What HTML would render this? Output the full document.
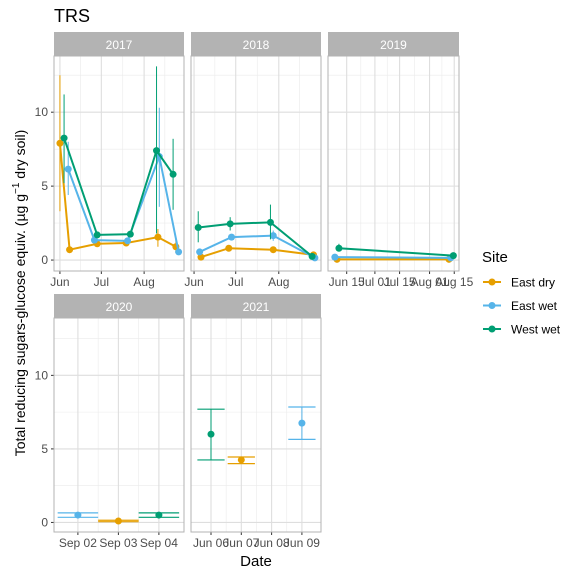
<!DOCTYPE html>
<html><head><meta charset="utf-8"><style>
body{margin:0;background:#fff}
svg text{font-family:"Liberation Sans",Arial,sans-serif}
</style></head><body>
<svg id="c" width="576" height="576" xmlns="http://www.w3.org/2000/svg">
<text x="54" y="22" font-size="18" fill="#000">TRS</text>
<text transform="translate(25,293) rotate(-90)" text-anchor="middle" font-size="14" fill="#000">Total reducing sugars-glucose equiv. (µg g<tspan dy="-6" font-size="10">−1</tspan><tspan dy="6"> dry soil)</tspan></text>
<text x="256" y="566" text-anchor="middle" font-size="15" fill="#000">Date</text>
<g>
<text x="482" y="262" font-size="15" fill="#000">Site</text>
</g>
</svg>
<script>
const colors={"East dry":"#E69F00","East wet":"#56B4E9","West wet":"#009E73"};
const siteNames=["East dry","East wet","West wet"];
// 2017 (days from Jun 1)
const d17_days={"East dry":[0,7,27,48,71,84],"East wet":[6,25,49,72,86],"West wet":[3,27,51,70,82]};
const d17_vals={"East dry":[7.9,0.7,1.1,1.15,1.55,0.9],"East wet":[6.15,1.35,1.3,7.0,0.55],"West wet":[8.25,1.7,1.75,7.4,5.8]};
const d17_lo={"East dry":[3.3,0.6,1.0,1.05,0.9,0.5],"East wet":[4.4,1.25,1.2,3.6,0.45],"West wet":[5.2,1.6,1.6,1.8,3.4]};
const d17_hi={"East dry":[12.5,0.8,1.2,1.25,2.1,1.4],"East wet":[8.0,1.45,1.4,10.3,0.65],"West wet":[11.2,1.8,1.9,13.1,8.2]};
// 2018
const d18_days={"East dry":[5,25,57,86],"East wet":[4,27,57,87],"West wet":[3,26,55,85]};
const d18_vals={"East dry":[0.2,0.8,0.7,0.35],"East wet":[0.55,1.55,1.65,0.15],"West wet":[2.2,2.45,2.55,0.25]};
const d18_lo={"East dry":[0.1,0.7,0.6,0.25],"East wet":[0.45,1.4,1.3,0.1],"West wet":[1.2,2.0,1.4,0.15]};
const d18_hi={"East dry":[0.3,0.9,0.8,0.45],"East wet":[0.65,1.7,2.0,0.2],"West wet":[3.3,2.9,3.75,0.35]};
// 2019 (days from Jun 15)
const d19_days={"East dry":[-5.5,58],"East wet":[-6.7,59],"West wet":[-4.4,60.5]};
const d19_vals={"East dry":[0.05,0.05],"East wet":[0.2,0.15],"West wet":[0.8,0.3]};
const d19_lo={"East dry":[0.0,0.0],"East wet":[0.15,0.1],"West wet":[0.6,0.25]};
const d19_hi={"East dry":[0.1,0.1],"East wet":[0.25,0.2],"West wet":[1.1,0.35]};
// 2020 (days from Sep 02)
const d20_days={"East dry":[1],"East wet":[0],"West wet":[2]};
const d20_vals={"East dry":[0.1],"East wet":[0.5],"West wet":[0.5]};
const d20_lo={"East dry":[0.05],"East wet":[0.35],"West wet":[0.35]};
const d20_hi={"East dry":[0.15],"East wet":[0.65],"West wet":[0.65]};
// 2021 (days from Jun 06)
const d21_days={"East dry":[1],"East wet":[3],"West wet":[0]};
const d21_vals={"East dry":[4.25],"East wet":[6.75],"West wet":[6.0]};
const d21_lo={"East dry":[4.0],"East wet":[5.65],"West wet":[4.25]};
const d21_hi={"East dry":[4.45],"East wet":[7.85],"West wet":[7.7]};
const yTicks=[0,5,10];
const ticks17=[["Jun",0],["Jul",30],["Aug",61]];
const ticks19=[["Jun 15",0],["Jul 01",16],["Jul 15",30],["Aug 01",47],["Aug 15",61]];
const ticks20=[["Sep 02",0],["Sep 03",1],["Sep 04",2]];
const ticks21=[["Jun 06",0],["Jun 07",1],["Jun 08",2],["Jun 09",3]];

const NS="http://www.w3.org/2000/svg";
const svgEl=document.getElementById('c');
function mk(t,a,p){const e=document.createElementNS(NS,t);for(const k in a)e.setAttribute(k,a[k]);(p||svgEl).appendChild(e);return e;}

function panel(o){
  const g=mk('g',{});
  
  
  const x=v=>o.x0+(v-o.d0)/(o.d1-o.d0)*(o.x1-o.x0);
  const y=v=>o.by1-(v-o.y0)/(o.y1-o.y0)*(o.by1-o.by0);
  const st=mk('rect',{x:o.x0,y:o.sy,width:o.x1-o.x0,height:o.by0-o.sy,fill:'#B3B3B3'},g);
  
  
  const stt=mk('text',{x:(o.x0+o.x1)/2,y:o.sy+17,'text-anchor':'middle','font-size':'12',fill:'#fff'},g);stt.textContent=o.label;
  [2.5,7.5,12.5].forEach(v=>mk('line',{x1:o.x0,x2:o.x1,y1:y(v),y2:y(v),stroke:'#EBEBEB','stroke-width':0.6},g));
  (o.minorX||[]).forEach(v=>mk('line',{x1:x(v),x2:x(v),y1:o.by0,y2:o.by1,stroke:'#EBEBEB','stroke-width':0.6},g));
  yTicks.forEach(v=>mk('line',{x1:o.x0,x2:o.x1,y1:y(v),y2:y(v),stroke:'#DEDEDE','stroke-width':1.1},g));
  o.ticks.forEach(t=>{
    mk('line',{x1:x(t[1]),x2:x(t[1]),y1:o.by0,y2:o.by1,stroke:'#DEDEDE','stroke-width':1.1},g);
    mk('line',{x1:x(t[1]),x2:x(t[1]),y1:o.by1,y2:o.by1+3,stroke:'#333','stroke-width':1},g);
    const tl=mk('text',{x:x(t[1]),y:o.by1+15,'text-anchor':'middle','font-size':'12',fill:'#4D4D4D'},g);
    
    
    tl.textContent=t[0];
  });
  if(o.yLabels){yTicks.forEach(v=>{
    mk('line',{x1:o.x0-3,x2:o.x0,y1:y(v),y2:y(v),stroke:'#333','stroke-width':1},g);
    const tl=mk('text',{x:o.x0-6,y:y(v)+4,'text-anchor':'end','font-size':'12',fill:'#4D4D4D'},g);
    
    
    tl.textContent=v;
  });}
  siteNames.forEach(s=>{
    const days=o.days[s],vals=o.vals[s],lo=o.lo[s],hi=o.hi[s],c=colors[s];
    if(days.length>1){
      const pl=mk('polyline',{points:days.map((d,i)=>x(d)+','+y(vals[i])).join(' '),fill:'none',stroke:c,'stroke-width':2},g);
      
      
    }
    days.forEach((d,i)=>{
      const cx=x(d);
      mk('line',{x1:cx,x2:cx,y1:y(lo[i]),y2:y(hi[i]),stroke:c,'stroke-width':1},g);
      if(o.cap){const w=o.cap*(o.x1-o.x0)/(o.d1-o.d0)/2;
        mk('line',{x1:cx-w,x2:cx+w,y1:y(lo[i]),y2:y(lo[i]),stroke:c,'stroke-width':1.2},g);
        mk('line',{x1:cx-w,x2:cx+w,y1:y(hi[i]),y2:y(hi[i]),stroke:c,'stroke-width':1.2},g);}
      const p=mk('circle',{cx:cx,cy:y(vals[i]),r:3.5,fill:c},g);
      
      
    });
  });
  mk('rect',{x:o.x0,y:o.by0,width:o.x1-o.x0,height:o.by1-o.by0,fill:'none',stroke:'#B3B3B3','stroke-width':1},g);
}
const rowTop={sy:32,by0:56,by1:271,y0:-0.74,y1:13.8};
const rowBot={sy:294,by0:318,by1:532,y0:-0.65,y1:13.9};
panel(Object.assign({label:'2017',x0:54,x1:184,d0:-4.3,d1:89.9,ticks:ticks17,minorX:[15,45.5,76],yLabels:true,days:d17_days,vals:d17_vals,lo:d17_lo,hi:d17_hi},rowTop));
panel(Object.assign({label:'2018',x0:191,x1:321,d0:-2.2,d1:91.4,ticks:ticks17,minorX:[15,45.5,76],days:d18_days,vals:d18_vals,lo:d18_lo,hi:d18_hi},rowTop));
panel(Object.assign({label:'2019',x0:328,x1:459,d0:-10.6,d1:63.7,ticks:ticks19,minorX:[8,23,38.5,54],days:d19_days,vals:d19_vals,lo:d19_lo,hi:d19_hi},rowTop));
panel(Object.assign({label:'2020',x0:54,x1:184,d0:-0.59,d1:2.62,ticks:ticks20,minorX:[0.5,1.5],yLabels:true,cap:1,days:d20_days,vals:d20_vals,lo:d20_lo,hi:d20_hi},rowBot));
panel(Object.assign({label:'2021',x0:191,x1:321,d0:-0.66,d1:3.63,ticks:ticks21,minorX:[0.5,1.5,2.5],cap:0.9,days:d21_days,vals:d21_vals,lo:d21_lo,hi:d21_hi},rowBot));
siteNames.forEach((s,i)=>{
  const yy=282+i*23.5;
  const g=mk('g',{});
  
  
  mk('line',{x1:483,x2:501,y1:yy,y2:yy,stroke:colors[s],'stroke-width':2},g);
  mk('circle',{cx:492,cy:yy,r:3.5,fill:colors[s]},g);
  const t=mk('text',{x:511,y:yy+4.5,'font-size':'12',fill:'#000'},g);t.textContent=s;
});
</script>
</body></html>
